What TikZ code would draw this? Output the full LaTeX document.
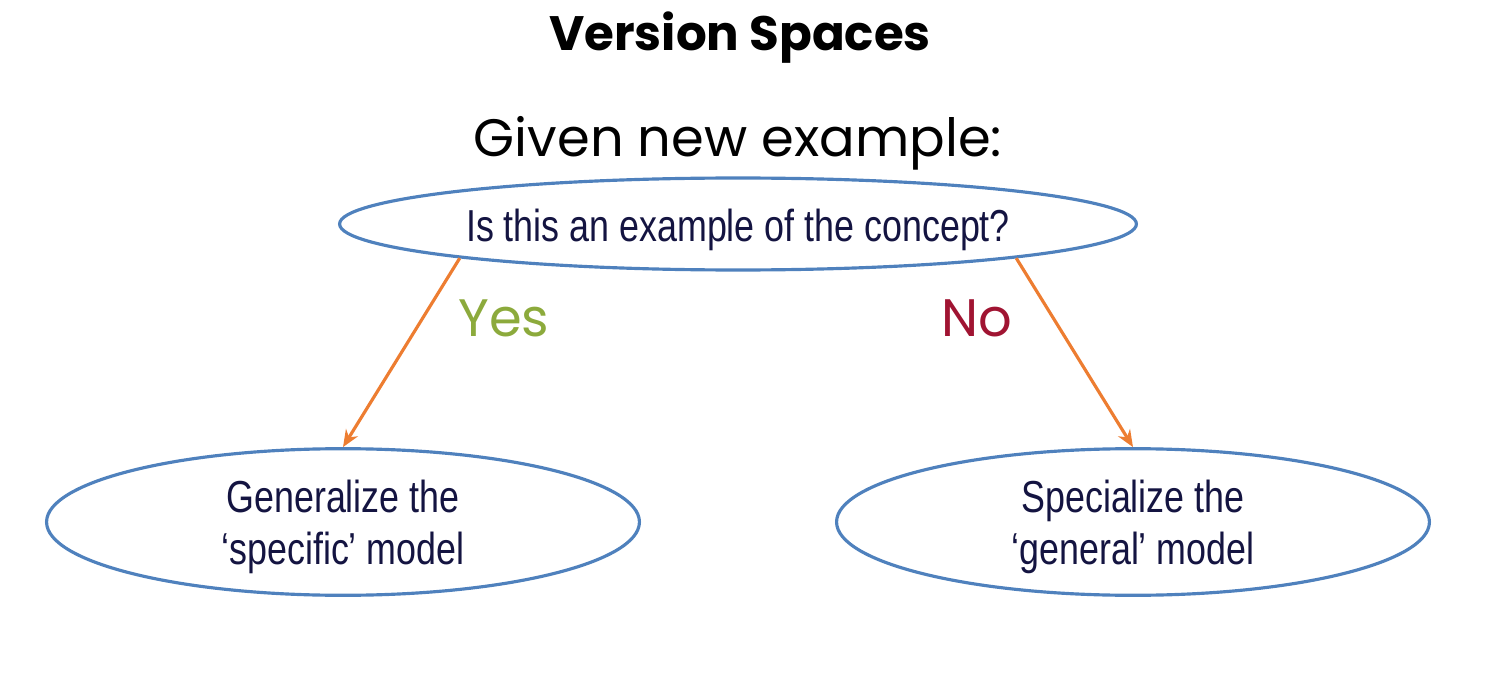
\documentclass[tikz,border=0pt]{standalone}
\usepackage{fontspec}
\setmainfont{Liberation Sans}
\newfontfamily\bodyfont[FakeStretch=0.8]{Liberation Sans}
\newfontfamily\handfont{Poppins}
\usetikzlibrary{shapes.geometric,arrows.meta}
\definecolor{ovalblue}{RGB}{79,129,189}
\definecolor{arroworange}{RGB}{237,125,49}
\definecolor{yesgreen}{RGB}{140,170,60}
\definecolor{nored}{RGB}{160,20,50}
\definecolor{navytext}{RGB}{20,20,65}
% lower a label inside its oval without changing the oval
\newcommand{\lowered}[1]{\raisebox{-0.12cm}[\height][\depth]{#1}}
\begin{document}
\begin{tikzpicture}[x=0.02cm,y=-0.02cm,
  oval/.style={ellipse,draw=ovalblue,line width=1.8pt,inner sep=0pt,
    font=\bodyfont\fontsize{25.5}{29.5}\selectfont,text=navytext,align=center},
  branch/.style={draw=arroworange,line width=1.8pt,
    -{Stealth[length=0.34cm,width=0.28cm]}},
  hand/.style={font=\handfont\fontsize{30}{36}\selectfont}]
\useasboundingbox (0,0) rectangle (1492,679);
\node[hand,font=\handfont\bfseries\fontsize{27.5}{34}\selectfont] (title) at (740,38) {Version Spaces};
\node[hand] (given) at (738,143) {Given new example:};
\node[oval,minimum width=15.94cm,minimum height=1.84cm] (top) at (738,224)
  {\lowered{Is this an example of the concept?}};
\node[oval,minimum width=11.86cm,minimum height=2.92cm] (gl) at (343,522)
  {\lowered{\begin{tabular}{@{}c@{}}Generalize the\\‘specific’ model\end{tabular}}};
\node[oval,minimum width=11.86cm,minimum height=2.92cm] (gr) at (1133,522)
  {\lowered{\begin{tabular}{@{}c@{}}Specialize the\\‘general’ model\end{tabular}}};
\draw[branch] (top.187.2) -- (gl.north);
\draw[branch] (top.353.6) -- (gr.north);
\node[hand,text=yesgreen] (yes) at (504,318) {Yes};
\node[hand,text=nored] (no) at (977,318) {No};
\end{tikzpicture}
\end{document}
